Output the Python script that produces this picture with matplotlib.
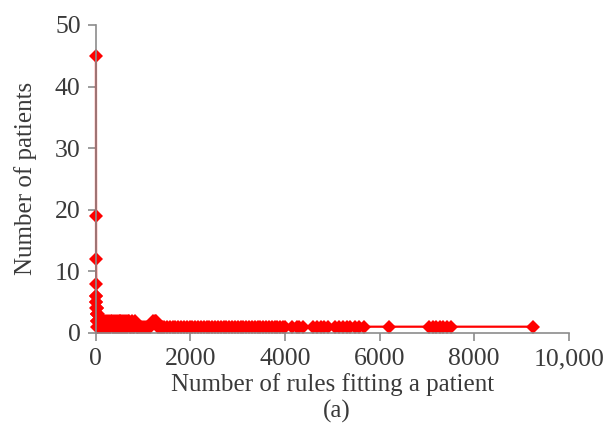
import matplotlib.pyplot as plt
from matplotlib.ticker import FuncFormatter

# number of rules fitting a patient -> number of patients
rules = [1, 2, 3, 5, 6, 8, 9, 11, 12, 14, 16, 18, 20, 22, 25, 28, 31, 35, 40, 46,
         55, 70, 85, 100, 120, 140, 160, 180, 200, 220, 240, 260, 280, 300, 320,
         340, 360, 380, 400, 420, 440, 460, 480, 500, 520, 540, 560, 580, 600,
         620, 640, 660, 680, 700, 720, 740, 760, 780, 800, 830, 860, 900, 940,
         980, 1020, 1060, 1100, 1150, 1200, 1250, 1280, 1320, 1360, 1400, 1450,
         1500, 1560, 1620, 1680, 1740, 1800, 1860, 1920, 1980, 2040, 2100, 2160,
         2220, 2280, 2340, 2400, 2460, 2520, 2580, 2640, 2700, 2760, 2820, 2880,
         2940, 3000, 3060, 3120, 3180, 3240, 3300, 3360, 3420, 3480, 3540, 3600,
         3660, 3720, 3780, 3840, 3900, 3950, 4000, 4150, 4250, 4300, 4380, 4600,
         4680, 4750, 4820, 4900, 5050, 5150, 5220, 5300, 5380, 5480, 5560, 5680,
         6200, 7050, 7120, 7200, 7280, 7350, 7430, 7500, 9250]
patients = [45, 19, 12, 8, 6, 5, 6, 4, 5, 3, 4, 2, 3, 4, 2, 3, 1, 2, 1, 3,
            2, 2, 1, 2, 1, 2, 2, 1, 2, 1, 2, 1, 2, 1, 2, 2, 1, 2, 1, 2,
            1, 2, 1, 2, 2, 1, 2, 1, 2, 1, 2, 1, 2, 2, 1, 1, 2, 1, 1, 2,
            1, 1, 1, 1, 1, 1, 1, 1, 2, 2, 2, 1, 1, 1, 1,
            1, 1, 1, 1, 1, 1, 1, 1, 1, 1, 1, 1,
            1, 1, 1, 1, 1, 1, 1, 1, 1, 1, 1, 1,
            1, 1, 1, 1, 1, 1, 1, 1, 1, 1, 1, 1,
            1, 1, 1, 1, 1, 1, 1, 1, 1, 1, 1, 1, 1,
            1, 1, 1, 1, 1, 1, 1, 1, 1, 1, 1,
            1, 1, 1, 1, 1, 1, 1, 1, 1]

x_ticks = [0, 2000, 4000, 6000, 8000, 10000]
y_ticks = [0, 10, 20, 30, 40, 50]

plt.rcParams['font.family'] = ['Liberation Serif', 'DejaVu Serif']
text_color = '#3a3a3a'

fig = plt.figure(figsize=(6.07, 4.45), dpi=100)
ax = fig.add_axes([0.158, 0.252, 0.779, 0.692])

ax.plot(rules, patients, color='#ff0000', linewidth=1.6, marker='D',
        markersize=7.5, markeredgewidth=0, clip_on=False)

ax.set_xlim(0, 10000)
ax.set_ylim(0, 50)
ax.set_xticks(x_ticks)
ax.set_yticks(y_ticks)
ax.xaxis.set_major_formatter(FuncFormatter(lambda v, p: f'{int(v):,}' if v >= 10000 else f'{int(v)}'))

for side in ['top', 'right']:
    ax.spines[side].set_visible(False)
for side in ['left', 'bottom']:
    ax.spines[side].set_color('#8c8c8c')
    ax.spines[side].set_linewidth(1.2)
ax.tick_params(axis='both', direction='out', length=6, width=1.2, color='#8c8c8c',
               labelsize=18.5, labelcolor=text_color, pad=5)

ax.set_xlabel('Number of rules fitting a patient', fontsize=18, color=text_color, labelpad=2)
ax.set_ylabel('Number of patients', fontsize=18, color=text_color, labelpad=13)
fig.text(0.555, 0.062, '(a)', fontsize=18, color=text_color, ha='center')

fig.savefig('out.png', dpi=100)
